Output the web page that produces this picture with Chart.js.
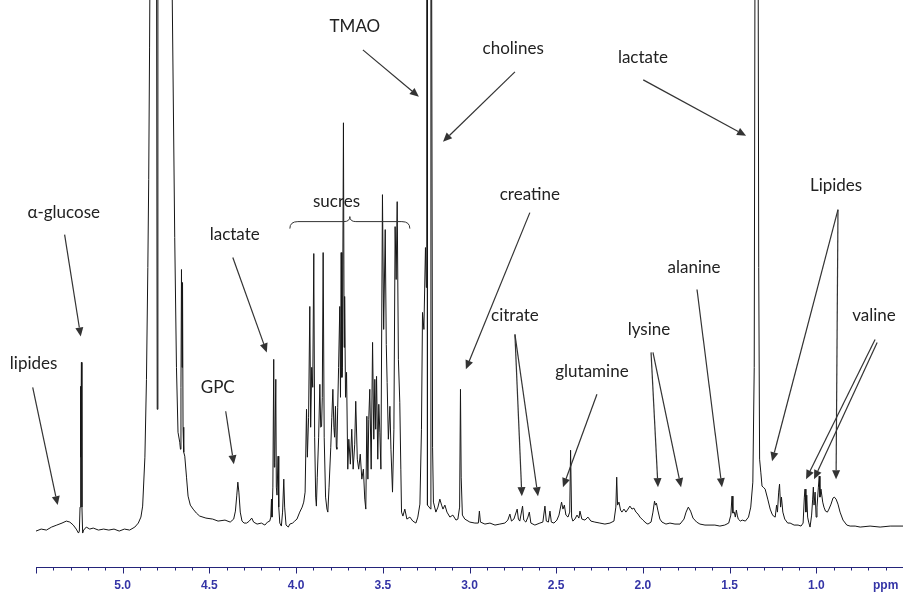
<!DOCTYPE html>
<html><head><meta charset="utf-8">
<script src="https://cdn.jsdelivr.net/npm/chart.js@4.4.0/dist/chart.umd.min.js"></script>
<style>html,body{margin:0;padding:0;background:#fff;}#wrap{width:903px;height:597px;position:relative}</style>
</head><body><div id="wrap"><canvas id="c"></canvas></div>
<script>
// Chemical shift (ppm) and intensity, left (5.5 ppm) to right (0.5 ppm)
const shiftPpm = [
5.500,5.470,5.440,5.410,5.380,5.350,5.325,5.305,5.285,5.268,5.255,5.250,5.246,5.244,5.241,5.238,5.235,5.231,5.225,5.210,
5.190,5.170,5.140,5.110,5.080,5.050,5.020,4.990,4.960,4.930,4.910,4.895,4.885,4.872,4.863,4.855,4.850,4.845,4.840,4.830,
4.815,4.805,4.801,4.797,4.780,4.750,4.730,4.716,4.700,4.690,4.681,4.671,4.667,4.664,4.661,4.658,4.655,4.652,4.648,4.642,
4.632,4.623,4.610,4.594,4.575,4.556,4.520,4.481,4.450,4.410,4.380,4.360,4.350,4.342,4.336,4.330,4.322,4.312,4.300,4.285,
4.270,4.256,4.245,4.225,4.200,4.180,4.165,4.152,4.146,4.142,4.139,4.134,4.129,4.126,4.123,4.117,4.114,4.110,4.104,4.100,
4.094,4.085,4.078,4.071,4.066,4.058,4.045,4.036,4.020,4.008,3.995,3.979,3.965,3.956,3.948,3.940,3.935,3.928,3.921,3.916,
3.910,3.904,3.898,3.893,3.887,3.883,3.878,3.870,3.863,3.858,3.853,3.849,3.844,3.838,3.830,3.822,3.817,3.810,3.800,3.794,
3.788,3.782,3.778,3.773,3.768,3.765,3.760,3.755,3.748,3.744,3.740,3.736,3.733,3.727,3.723,3.720,3.715,3.709,3.702,3.696,
3.687,3.679,3.671,3.662,3.656,3.647,3.639,3.630,3.621,3.612,3.604,3.598,3.592,3.586,3.581,3.575,3.567,3.559,3.552,3.546,
3.541,3.536,3.529,3.523,3.517,3.511,3.502,3.495,3.486,3.480,3.475,3.468,3.459,3.453,3.444,3.436,3.429,3.423,3.417,3.410,
3.402,3.396,3.392,3.384,3.373,3.361,3.344,3.327,3.309,3.298,3.286,3.277,3.271,3.263,3.254,3.249,3.246,3.2435,3.2425,3.2235,
3.2225,3.220,3.213,3.208,3.194,3.182,3.171,3.161,3.153,3.142,3.130,3.113,3.096,3.078,3.067,3.057,3.052,3.048,3.041,3.027,
2.998,2.969,2.949,2.943,2.937,2.911,2.882,2.853,2.825,2.796,2.779,2.767,2.758,2.744,2.725,2.718,2.710,2.694,2.687,2.675,
2.663,2.655,2.646,2.623,2.594,2.577,2.565,2.557,2.545,2.536,2.528,2.513,2.496,2.484,2.469,2.461,2.453,2.444,2.432,2.422,
2.417,2.411,2.404,2.392,2.380,2.369,2.363,2.352,2.334,2.317,2.300,2.277,2.248,2.219,2.190,2.167,2.156,2.151,2.146,2.138,
2.129,2.121,2.109,2.098,2.086,2.075,2.063,2.052,2.040,2.028,2.017,2.000,1.982,1.971,1.953,1.942,1.933,1.928,1.922,1.914,
1.902,1.890,1.867,1.844,1.815,1.786,1.763,1.751,1.738,1.725,1.711,1.690,1.671,1.642,1.613,1.585,1.556,1.528,1.505,1.493,
1.486,1.481,1.473,1.467,1.461,1.456,1.450,1.438,1.427,1.409,1.391,1.378,1.366,1.358,1.352,1.337,1.332,1.327,1.320,1.313,
1.306,1.295,1.280,1.266,1.255,1.247,1.237,1.229,1.224,1.217,1.212,1.206,1.201,1.193,1.182,1.165,1.151,1.128,1.105,1.088,
1.076,1.069,1.065,1.060,1.055,1.050,1.044,1.036,1.027,1.021,1.017,1.013,1.007,1.001,0.996,0.988,0.983,0.979,0.973,0.963,
0.956,0.947,0.936,0.927,0.915,0.904,0.896,0.886,0.875,0.863,0.846,0.824,0.805,0.776,0.747,0.690,0.632,0.574,0.500
];
const intensity = [
36,38,37,40,42,44,46,45,42,38,34,36,60,181,110,205,60,34,37,40,
38,39,37,38,37,38,36,38,37,40,44,50,61,110,188,300,388,520,700,760,
740,640,158,650,780,760,700,600,330,200,135,125,118,180,298,200,285,140,115,111,
90,71,62,58,54,51,49,48,46,47,45,48,56,72,85,75,55,46,44,44,
46,49,45,43,44,42,45,46,50,68,50,80,208,100,105,188,80,72,111,60,
44,41,55,88,60,42,40,43,44,46,48,55,60,65,75,158,110,150,261,140,
200,180,314,130,70,61,90,130,183,140,141,170,315,130,70,58,55,80,120,150,
178,140,130,161,120,118,160,200,261,170,315,190,200,445,220,271,170,195,98,128,
103,138,98,123,166,108,98,113,88,98,68,58,151,88,148,178,98,225,128,188,
138,191,108,163,135,98,373,238,338,223,185,128,161,118,75,138,341,288,366,208,
165,98,55,51,58,48,50,46,44,50,63,138,255,238,320,280,750,750,62,58,
750,750,120,65,55,60,68,62,58,62,55,50,52,47,48,60,178,90,52,48,
45,44,44,56,45,43,44,42,43,44,47,53,46,48,58,48,46,61,47,45,
50,55,44,42,44,45,61,46,45,56,45,44,47,52,65,58,62,52,50,55,
117,50,46,48,52,49,56,48,47,50,46,45,44,43,44,46,60,90,62,65,
57,55,58,55,58,61,58,59,55,53,50,47,44,43,45,55,66,62,64,57,
48,45,43,44,43,43,48,55,60,56,49,45,43,42,42,42,41,42,44,52,
71,54,55,50,57,52,48,46,47,46,50,60,85,200,760,760,300,108,95,81,
80,78,68,58,53,51,50,62,55,75,83,60,70,55,48,44,44,42,42,41,
44,70,78,55,72,50,45,40,52,68,80,62,75,50,60,80,91,70,78,65,
60,56,55,58,63,69,70,68,63,55,47,42,41,41,40,41,40,41,41
];
// Axis tick labels
const majorTickValues = [5.0, 4.5, 4.0, 3.5, 3.0, 2.5, 2.0, 1.5, 1.0];
const majorTickLabels = ['5.0', '4.5', '4.0', '3.5', '3.0', '2.5', '2.0', '1.5', '1.0'];
const unitLabel = 'ppm';
const unitTickValue = 0.6;

// Annotation labels (text) with positions in data units (ppm, intensity)
const annotations = [
  {text:'lipides',   at:[5.514,204], arrows:[[[5.519,180],[5.375,62]]]},
  {text:'\u03b1-glucose', at:[5.340,355], arrows:[[[5.335,333],[5.242,231]]]},
  {text:'GPC',       at:[4.452,180], arrows:[[[4.406,156],[4.359,103]]]},
  {text:'lactate',   at:[4.354,333], arrows:[[[4.365,310],[4.169,215]]]},
  {text:'sucres',    at:[3.767,366], arrows:[]},
  {text:'TMAO',      at:[3.661,541], arrows:[[[3.615,518],[3.292,471]]]},
  {text:'cholines',  at:[2.748,519], arrows:[[[2.738,496],[3.153,426]]]},
  {text:'lactate',   at:[2.000,510], arrows:[[[1.998,488],[1.405,432]]]},
  {text:'creatine',  at:[2.652,373], arrows:[[[2.652,355],[3.021,198]]]},
  {text:'citrate',   at:[2.738,252], arrows:[[[2.738,233],[2.698,71]],[[2.738,233],[2.605,71]]]},
  {text:'glutamine', at:[2.294,196], arrows:[[[2.265,173],[2.461,80]]]},
  {text:'lysine',    at:[1.965,238], arrows:[[[1.953,215],[1.913,80]],[[1.942,215],[1.780,80]]]},
  {text:'alanine',   at:[1.705,300], arrows:[[[1.688,278],[1.544,80]]]},
  {text:'Lipides',   at:[0.886,382], arrows:[[[0.875,358],[1.255,106]],[[0.875,358],[0.886,88]]]},
  {text:'valine',    at:[0.667,252], arrows:[[[0.661,228],[1.059,88]],[[0.649,225],[1.013,88]]]}
];
const sucresBrace = {from:4.036, to:3.344, mid:3.690, level:346};

const AXIS_COLOR = '#24247a';
const LABEL_COLOR = '#3434a6';

function drawArrow(ctx, x1, y1, x2, y2) {
  const ang = Math.atan2(y2 - y1, x2 - x1);
  const hl = 9, hw = 4;
  const bx = x2 - hl * Math.cos(ang), by = y2 - hl * Math.sin(ang);
  ctx.beginPath();
  ctx.moveTo(x1, y1); ctx.lineTo(bx, by); ctx.stroke();
  ctx.beginPath();
  ctx.moveTo(x2, y2);
  ctx.lineTo(bx + hw * Math.sin(ang), by - hw * Math.cos(ang));
  ctx.lineTo(bx - hw * Math.sin(ang), by + hw * Math.cos(ang));
  ctx.closePath(); ctx.fill();
}

const decorPlugin = {
  id: 'decor',
  afterDraw(chart) {
    const ctx = chart.ctx, xs = chart.scales.x, ys = chart.scales.y;
    ctx.save();
    // tick marks
    ctx.strokeStyle = AXIS_COLOR; ctx.lineWidth = 1;
    const top = Math.round(xs.top) + 0.5;
    xs.ticks.forEach(t => {
      const px = Math.round(xs.getPixelForValue(t.value)) + 0.5;
      const major = Math.round(t.value * 10) % 5 === 0;
      ctx.beginPath(); ctx.moveTo(px, top); ctx.lineTo(px, top + (major ? 6 : 3)); ctx.stroke();
    });
    // annotations
    ctx.strokeStyle = '#333'; ctx.fillStyle = '#222'; ctx.lineWidth = 1.2;
    ctx.font = '17px Lato, "Open Sans", sans-serif';
    ctx.textAlign = 'center'; ctx.textBaseline = 'middle';
    annotations.forEach(a => {
      ctx.fillStyle = '#222';
      ctx.fillText(a.text, xs.getPixelForValue(a.at[0]), ys.getPixelForValue(a.at[1]));
      ctx.fillStyle = '#333';
      a.arrows.forEach(ar => drawArrow(ctx,
        xs.getPixelForValue(ar[0][0]), ys.getPixelForValue(ar[0][1]),
        xs.getPixelForValue(ar[1][0]), ys.getPixelForValue(ar[1][1])));
    });
    // brace over sucres
    const bl = xs.getPixelForValue(sucresBrace.from), br = xs.getPixelForValue(sucresBrace.to);
    const bm = xs.getPixelForValue(sucresBrace.mid), by = ys.getPixelForValue(sucresBrace.level);
    ctx.lineWidth = 1; ctx.strokeStyle = '#333';
    ctx.beginPath();
    ctx.moveTo(bl, by + 7);
    ctx.quadraticCurveTo(bl, by, bl + 8, by);
    ctx.lineTo(bm - 6, by);
    ctx.quadraticCurveTo(bm, by, bm, by - 5);
    ctx.quadraticCurveTo(bm, by, bm + 6, by);
    ctx.lineTo(br - 8, by);
    ctx.quadraticCurveTo(br, by, br, by + 7);
    ctx.stroke();
    ctx.restore();
  }
};

const points = shiftPpm.map((p, i) => ({x: p, y: intensity[i]}));

new Chart(document.getElementById('c'), {
  type: 'line',
  data: { datasets: [{ data: points, borderColor: '#161616', borderWidth: 1, pointRadius: 0, tension: 0, fill: false }] },
  options: {
    responsive: true, maintainAspectRatio: false, animation: false,
    layout: { padding: { left: 36, right: 0, top: 0, bottom: 0 } },
    plugins: { legend: { display: false }, tooltip: { enabled: false } },
    scales: {
      x: {
        type: 'linear', reverse: true, min: 0.5, max: 5.5,
        afterFit: (s) => { s.height = 30; s.paddingLeft = 0; s.paddingRight = 0; },
        border: { display: true, color: AXIS_COLOR, width: 1 },
        grid: { display: true, drawOnChartArea: false, drawTicks: false },
        ticks: {
          stepSize: 0.1, autoSkip: false, maxRotation: 0, minRotation: 0, padding: 11,
          color: LABEL_COLOR, font: { family: '"Liberation Sans", Arial, sans-serif', size: 12, weight: 'bold' },
          callback: (v) => {
            const t = Math.round(v * 10);
            const i = majorTickValues.findIndex(m => Math.round(m * 10) === t);
            if (i >= 0) return majorTickLabels[i];
            if (t === Math.round(unitTickValue * 10)) return unitLabel;
            return '';
          }
        }
      },
      y: { display: false, min: 0, max: 568 }
    }
  },
  plugins: [decorPlugin]
});
</script></body></html>
